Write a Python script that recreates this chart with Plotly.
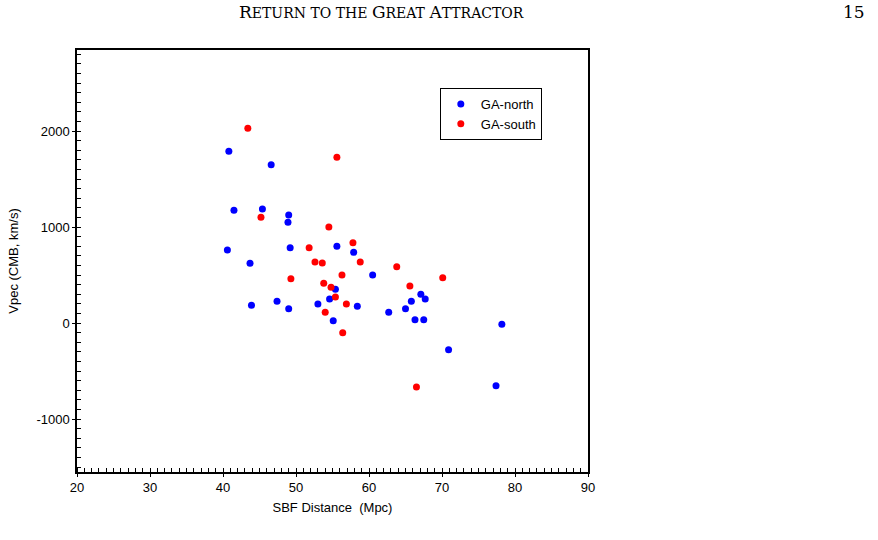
import plotly.graph_objects as go

north_d = [40.8, 46.6, 41.5, 45.4, 49.0, 48.9, 40.6, 49.2, 55.6, 57.9, 43.7, 60.5, 55.4, 54.6, 67.1,
           67.7, 65.8, 43.9, 47.4, 49.0, 53.0, 58.4, 65.0, 62.7, 55.1, 66.3, 67.5, 78.2, 70.9, 77.4]
north_v = [1788, 1649, 1174, 1188, 1125, 1049, 760, 785, 799, 736, 622, 500, 351, 250, 299,
           250, 226, 184, 226, 149, 198, 174, 149, 111, 24, 34, 34, -14, -278, -653]
south_d = [43.4, 55.6, 45.2, 54.5, 51.8, 57.8, 52.6, 53.6, 58.8, 63.8, 56.3, 70.1, 49.3, 53.8,
           54.8, 65.6, 55.4, 56.9, 54.0, 56.4, 66.5]
south_v = [2028, 1726, 1101, 1000, 785, 837, 635, 625, 635, 587, 500, 472, 462, 413,
           372, 385, 271, 198, 111, -101, -667]

x_ticks = [20, 30, 40, 50, 60, 70, 80, 90]
y_ticks = [-1000, 0, 1000, 2000]

fig = go.Figure()
fig.add_trace(go.Scatter(x=north_d, y=north_v, mode="markers", name="GA-north",
                         marker=dict(color="#0000ff", size=7)))
fig.add_trace(go.Scatter(x=south_d, y=south_v, mode="markers", name="GA-south",
                         marker=dict(color="#ff0000", size=7)))

axis_font = dict(family="Liberation Sans, Arial", size=13, color="black")
fig.update_layout(
    width=878, height=540,
    margin=dict(l=77, r=290, t=50, b=68),
    paper_bgcolor="white", plot_bgcolor="white",
    showlegend=True,
    legend=dict(x=0.71, y=0.91, xanchor="left", yanchor="top",
                bordercolor="black", borderwidth=1, bgcolor="white",
                font=dict(family="Liberation Sans, Arial", size=13, color="black"),
                tracegroupgap=0, itemwidth=30),
    xaxis=dict(range=[20, 90], tickvals=x_ticks, ticktext=[str(v) for v in x_ticks],
               showgrid=False, zeroline=False, showline=True, linecolor="black", linewidth=1.5,
               mirror=True, ticks="outside", ticklen=3, tickcolor="black",
               minor=dict(dtick=1, ticks="inside", ticklen=4, tickcolor="black", showgrid=False),
               tickfont=axis_font,
               title=dict(text="SBF Distance  (Mpc)", font=dict(family="Liberation Sans, Arial", size=13, color="black"), standoff=9)),
    yaxis=dict(range=[-1552, 2844], tickvals=y_ticks, ticktext=[str(v) for v in y_ticks],
               showgrid=False, zeroline=False, showline=True, linecolor="black", linewidth=1.5,
               mirror=True, ticks="outside", ticklen=3, tickcolor="black",
               minor=dict(dtick=100, ticks="inside", ticklen=4, tickcolor="black", showgrid=False),
               tickfont=axis_font,
               title=dict(text="Vpec (CMB, km/s)", font=dict(family="Liberation Sans, Arial", size=13, color="black"), standoff=15)),
)

sc = "font-size:14px"
header = ("R<span style='%s'>ETURN TO THE </span>G<span style='%s'>REAT </span>A<span style='%s'>TTRACTOR</span>"
          % (sc, sc, sc))
fig.add_annotation(text=header, xref="paper", yref="paper", x=(381 - 77) / 511, y=1.0, yshift=38,
                   xanchor="center", yanchor="middle", showarrow=False,
                   font=dict(family="DejaVu Serif", size=17, color="black"))
fig.add_annotation(text="15", xref="paper", yref="paper", x=(867 - 77) / 511, y=1.0, yshift=38,
                   xanchor="right", yanchor="middle", showarrow=False,
                   font=dict(family="DejaVu Serif", size=17, color="black"))

fig.write_html("out.html")
